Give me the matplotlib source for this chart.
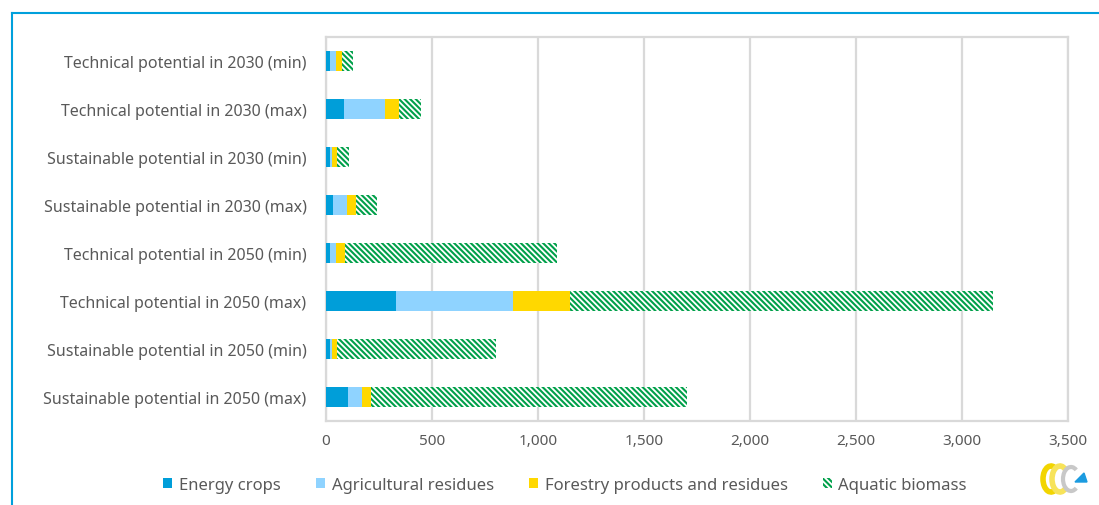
import numpy as np
import matplotlib
matplotlib.use("Agg")
import matplotlib.pyplot as plt
from matplotlib.patches import Patch, Arc, Polygon
from matplotlib.lines import Line2D

# ______________________________________________________
# _______________________ DATA _________________________

scenarios = [
    "Technical potential in 2030 (min)",
    "Technical potential in 2030 (max)",
    "Sustainable potential in 2030 (min)",
    "Sustainable potential in 2030 (max)",
    "Technical potential in 2050 (min)",
    "Technical potential in 2050 (max)",
    "Sustainable potential in 2050 (min)",
    "Sustainable potential in 2050 (max)",
]

energy_crops = [19, 85, 19, 35, 19, 330, 19, 105]
agri_residues = [27, 192, 9, 66, 27, 551, 9, 64]
forestry = [30, 69, 25, 39, 44, 269, 25, 41]
aquatic = [50, 100, 54, 102, 1000, 1998, 751, 1495]

series_names = ["Energy crops", "Agricultural residues",
                "Forestry products and residues", "Aquatic biomass"]
x_ticks = [0, 500, 1000, 1500, 2000, 2500, 3000, 3500]

# ______________________________________________________
# ______________________ STYLE _________________________

c_energy = "#009ed9"
c_agri = "#8fd3ff"
c_forest = "#ffd800"
c_aquatic = "#00a04a"
c_grid = "#d9d9d9"
c_text = "#595959"

plt.rcParams["font.family"] = ["Noto Sans", "DejaVu Sans"]
plt.rcParams["hatch.linewidth"] = 1.5

fig = plt.figure(figsize=(10.99, 5.06), dpi=100)
ax = fig.add_axes([326/1099, 84/506, 742/1099, 384/506])

y = np.arange(len(scenarios))
h = 0.4
left = np.zeros(len(scenarios))

for vals, col in [(energy_crops, c_energy), (agri_residues, c_agri), (forestry, c_forest)]:
    ax.barh(y, vals, height=h, left=left, color=col, linewidth=0, zorder=3)
    left = left + np.array(vals)

# aquatic biomass drawn as green diagonal stripes on white
stripes = "\\" * 6
ax.barh(y, aquatic, height=h, left=left, color="white", edgecolor=c_aquatic,
        hatch=stripes, linewidth=0, zorder=3)

ax.set_xlim(0, 3500)
ax.set_ylim(len(scenarios) - 0.5, -0.5)
ax.set_xticks(x_ticks)
ax.set_xticklabels([f"{v:,}" for v in x_ticks])
ax.set_yticks(y)
ax.set_yticklabels(scenarios)
ax.tick_params(axis="both", length=0, labelsize=11, colors=c_text)
ax.tick_params(axis="y", pad=14, labelsize=11.5)
ax.tick_params(axis="x", pad=9)
ax.grid(axis="x", color=c_grid, linewidth=1.6, zorder=0)
for s in ax.spines.values():
    s.set_color(c_grid)
    s.set_linewidth(1.6)

# legend along the bottom
handles = [
    Patch(facecolor=c_energy, linewidth=0),
    Patch(facecolor=c_agri, linewidth=0),
    Patch(facecolor=c_forest, linewidth=0),
    Patch(facecolor="white", edgecolor=c_aquatic, hatch=stripes, linewidth=0),
]
leg = fig.legend(handles, series_names, loc="center", ncol=4, frameon=False,
                 bbox_to_anchor=(565/1099, 1 - 486/506), fontsize=12,
                 handlelength=0.55, handleheight=0.55, handletextpad=0.4,
                 columnspacing=2.1)
for t in leg.get_texts():
    t.set_color(c_text)

# blue outline at top and left
fig.add_artist(Line2D([11.5/1099, 1], [1 - 14/506, 1 - 14/506], color="#00a0dc",
                      linewidth=1.5, transform=fig.transFigure))
fig.add_artist(Line2D([11.5/1099, 11.5/1099], [0, 1 - 14/506], color="#00a0dc",
                      linewidth=1.5, transform=fig.transFigure))

# small logo, bottom right
lg = fig.add_axes([1038/1099, 10/506, 54/1099, 32/506])
lg.set_xlim(0, 54)
lg.set_ylim(0, 32)
lg.set_aspect("equal")
lg.axis("off")
lg.add_patch(Arc((13, 16), 16, 26, theta1=60, theta2=300, color="#f2d500", linewidth=4))
lg.add_patch(Arc((22, 16), 16, 26, theta1=60, theta2=300, color="#f7e35a", linewidth=4))
lg.add_patch(Arc((33, 16), 16, 24, theta1=60, theta2=300, color="#c8c8c8", linewidth=3))
lg.add_patch(Polygon([[37, 13], [49, 13], [46, 22]], closed=True, color="#1b9be0"))

fig.savefig("out.png", dpi=100)
